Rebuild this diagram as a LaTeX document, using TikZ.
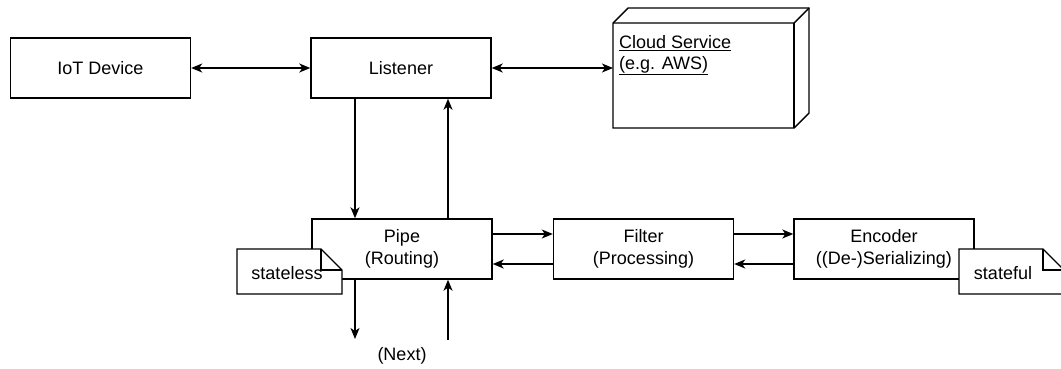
\documentclass[tikz,border=0pt]{standalone}
\usepackage{fontspec}
\setmainfont{Liberation Sans}
\usetikzlibrary{arrows.meta}
\begin{document}
\begin{tikzpicture}[x=1pt,y=-1pt,
  every node/.style={font=\fontsize{18}{21.5}\selectfont},
  box/.style={draw,line width=1.4pt,fill=white,minimum width=180pt,minimum height=60pt,align=center,inner sep=0pt},
  conn/.style={line width=1.4pt,-{Stealth[length=11pt,width=9pt,inset=3pt]}},
  biconn/.style={line width=1.4pt,{Stealth[length=11pt,width=9pt,inset=3pt]}-{Stealth[length=11pt,width=9pt,inset=3pt]}},
  notepath/.style={draw,line width=1.4pt,fill=white}]
\useasboundingbox (0,0) rectangle (1061,368);
% boxes
\node[box] (iot) at (100.5,68) {IoT Device};
\node[box] (lis) at (401,68) {Listener};
\node[box] (pipe) at (402,249) {Pipe\\(Routing)};
\node[box] (filter) at (643.5,249) {Filter\\(Processing)};
\node[box] (enc) at (884,249) {Encoder\\((De-)Serializing)};
% cloud cube
\draw[line width=1.4pt,fill=white] (613,23) -- (628,8) -- (809,8) -- (809,113) -- (794,128) -- (613,128) -- cycle;
\draw[line width=1.4pt] (613,23) -- (794,23) -- (809,8);
\draw[line width=1.4pt] (794,23) -- (794,128);
\node[anchor=north west,align=left,inner sep=0pt,font=\fontsize{18}{21}\selectfont] (cloud) at (619,35) {\underline{Cloud Service}\\\underline{(e.g. AWS)}};
\coordinate (cloudW) at (613,68);
% connectors
\draw[biconn] (iot.east) -- (lis.west);
\draw[biconn] (lis.east) -- (cloudW);
\draw[conn] (lis.south -| 355,0) -- (pipe.north -| 355,0);
\draw[conn] (pipe.north -| 448,0) -- (lis.south -| 448,0);
\draw[conn] (pipe.east |- 0,234) -- (filter.west |- 0,234);
\draw[conn] (filter.west |- 0,264) -- (pipe.east |- 0,264);
\draw[conn] (filter.east |- 0,234) -- (enc.west |- 0,234);
\draw[conn] (enc.west |- 0,264) -- (filter.east |- 0,264);
\coordinate (outEnd) at (355,339);
\coordinate (inStart) at (448,340);
\draw[conn] (pipe.south -| 355,0) -- (outEnd);
\draw[conn] (inStart) -- (pipe.south -| 448,0);
\node (next) at (402,356) {(Next)};
% notes
\draw[notepath] (237,249) -- (321,249) -- (342,270) -- (342,294) -- (237,294) -- cycle;
\draw[line width=1.4pt] (321,249) -- (321,270) -- (342,270);
\node (stateless) at (287,273) {stateless};
\draw[notepath] (959,249) -- (1043,249) -- (1064,270) -- (1064,294) -- (959,294) -- cycle;
\draw[line width=1.4pt] (1043,249) -- (1043,270) -- (1064,270);
\node (stateful) at (1003,273) {stateful};
\end{tikzpicture}
\end{document}
